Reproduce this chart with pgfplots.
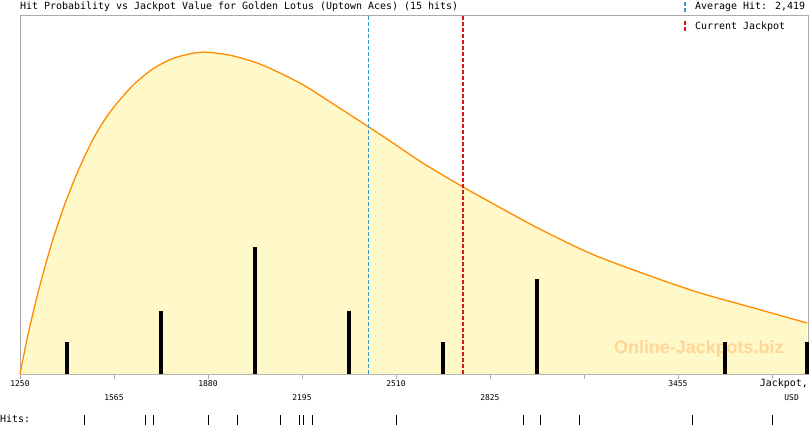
\documentclass[border=0pt]{standalone}
\usepackage{pgfplots}
\pgfplotsset{compat=1.18}
\usepackage{fontspec}
\setmainfont{DejaVu Sans Mono}
\newfontfamily\wmfont{Liberation Sans}

\definecolor{boxgray}{RGB}{170,170,170}
\definecolor{curveorange}{RGB}{255,140,0}
\definecolor{fillyellow}{RGB}{255,248,200}
\definecolor{avgblue}{RGB}{51,153,204}
\definecolor{jackpotred}{RGB}{220,20,20}
\definecolor{wmorange}{RGB}{255,214,150}

% common frame: 788 x 359 px plot box, data x range
\pgfplotsset{
  frame/.style={
    scale only axis, width=788bp, height=359bp,
    xmin=1250, xmax=3891,
    clip=false,
  },
}

\pgfplotstableread{
x     p
1250  0
1273  34
1296  64
1318  90
1341  115
1363  137
1385  157
1408  176
1436  197
1464  216
1497  236
1531  253
1570  269
1633  290
1700  306
1767  316
1834  321
1867  322
1950  319
2035  312
2100  304
2200  289
2300  270
2419  247
2500  231
2600  211
2735  187
2874  164
2992  145
3166  120
3344  100
3519  82
3697  67
3888  51
}\curve

\begin{document}
\begin{tikzpicture}[x=1bp,y=1bp]
\useasboundingbox (0,0) rectangle (810,425);

% main axis: probability curve and marker lines
\begin{axis}[frame,
  at={(20bp,51bp)}, anchor=south west,
  ymin=0, ymax=359,
  axis line style={boxgray},
  xtick={1250,1565,1880,2195,2510,2825,3140,3455,3770},
  xticklabels={},
  xtick pos=lower, tick align=outside,
  major tick length=5bp,
  tick style={boxgray, line width=0.8bp},
  ytick=\empty,
]
\addplot[draw=none, fill=fillyellow, smooth, tension=0.5] table[x=x, y=p] {\curve} \closedcycle;
\addplot[curveorange, line width=1.3bp, smooth, tension=0.5] table[x=x, y=p] {\curve};
% average hit and current jackpot
\addplot[draw=avgblue, line width=0.8bp, dash pattern=on 4bp off 2bp] coordinates {(2419,0) (2419,359)};
\addplot[draw=jackpotred, line width=1.2bp, dash pattern=on 4bp off 2bp] coordinates {(2735,0) (2735,359)};

% watermark
\node[font=\wmfont\bfseries\fontsize{18}{18}\selectfont, text=wmorange]
  at (axis cs:3525,25) {Online-Jackpots.biz};

% tick labels, two rows
\begin{scope}[font=\fontsize{8}{8}\selectfont, inner sep=0pt]
\node at (axis cs:1250,0) [yshift=-10bp] {1250};
\node at (axis cs:1880,0) [yshift=-10bp] {1880};
\node at (axis cs:2510,0) [yshift=-10bp] {2510};
\node at (axis cs:3455,0) [yshift=-10bp] {3455};
\node at (axis cs:1565,0) [yshift=-24bp] {1565};
\node at (axis cs:2195,0) [yshift=-24bp] {2195};
\node at (axis cs:2825,0) [yshift=-24bp] {2825};
\end{scope}
\end{axis}

% histogram of hits per 315 band
\begin{axis}[frame,
  at={(20bp,51bp)}, anchor=south west,
  ymin=0, ymax=11.31,
  axis lines=none,
]
\addplot[ycomb, black, line width=3.6bp, mark=none] coordinates {
 (1407.5,1) (1722.5,2) (2037.5,4) (2352.5,2) (2667.5,1) (2982.5,3)
 (3612.5,1) (3887,1)
};
\end{axis}

% individual hits row
\begin{axis}[frame,
  at={(20bp,0bp)}, anchor=south west, height=10bp,
  ymin=0, ymax=1,
  axis lines=none,
]
\addplot[ycomb, black, line width=0.8bp, mark=none] coordinates {
 (1465,1) (1669,1) (1696,1) (1881,1) (1978,1) (2122,1) (2186,1) (2200,1)
 (2230,1) (2512,1) (2938,1) (2995,1) (3126,1) (3505,1) (3770,1)
};
\end{axis}

% title, legend and labels outside the box
\node[anchor=west, inner sep=0pt, font=\fontsize{10}{10}\selectfont] at (20,418)
  {Hit Probability vs Jackpot Value for Golden Lotus (Uptown Aces) (15 hits)};
\draw[avgblue, line width=1.1bp, dash pattern=on 4bp off 2bp] (685,423) -- (685,413);
\node[anchor=west, inner sep=0pt, font=\fontsize{10}{10}\selectfont] at (695,418) {Average Hit: 2,419};
\draw[jackpotred, line width=1.2bp, dash pattern=on 4bp off 2bp] (685,404) -- (685,392);
\node[anchor=west, inner sep=0pt, font=\fontsize{10}{10}\selectfont] at (695,398) {Current Jackpot};
\node[anchor=east, inner sep=0pt, font=\fontsize{10}{10}\selectfont] at (808,41) {Jackpot,};
\node[anchor=east, inner sep=0pt, font=\fontsize{8}{8}\selectfont] at (799,27) {USD};
\node[anchor=west, inner sep=0pt, font=\fontsize{10}{10}\selectfont] at (0,6) {Hits:};
\end{tikzpicture}
\end{document}
